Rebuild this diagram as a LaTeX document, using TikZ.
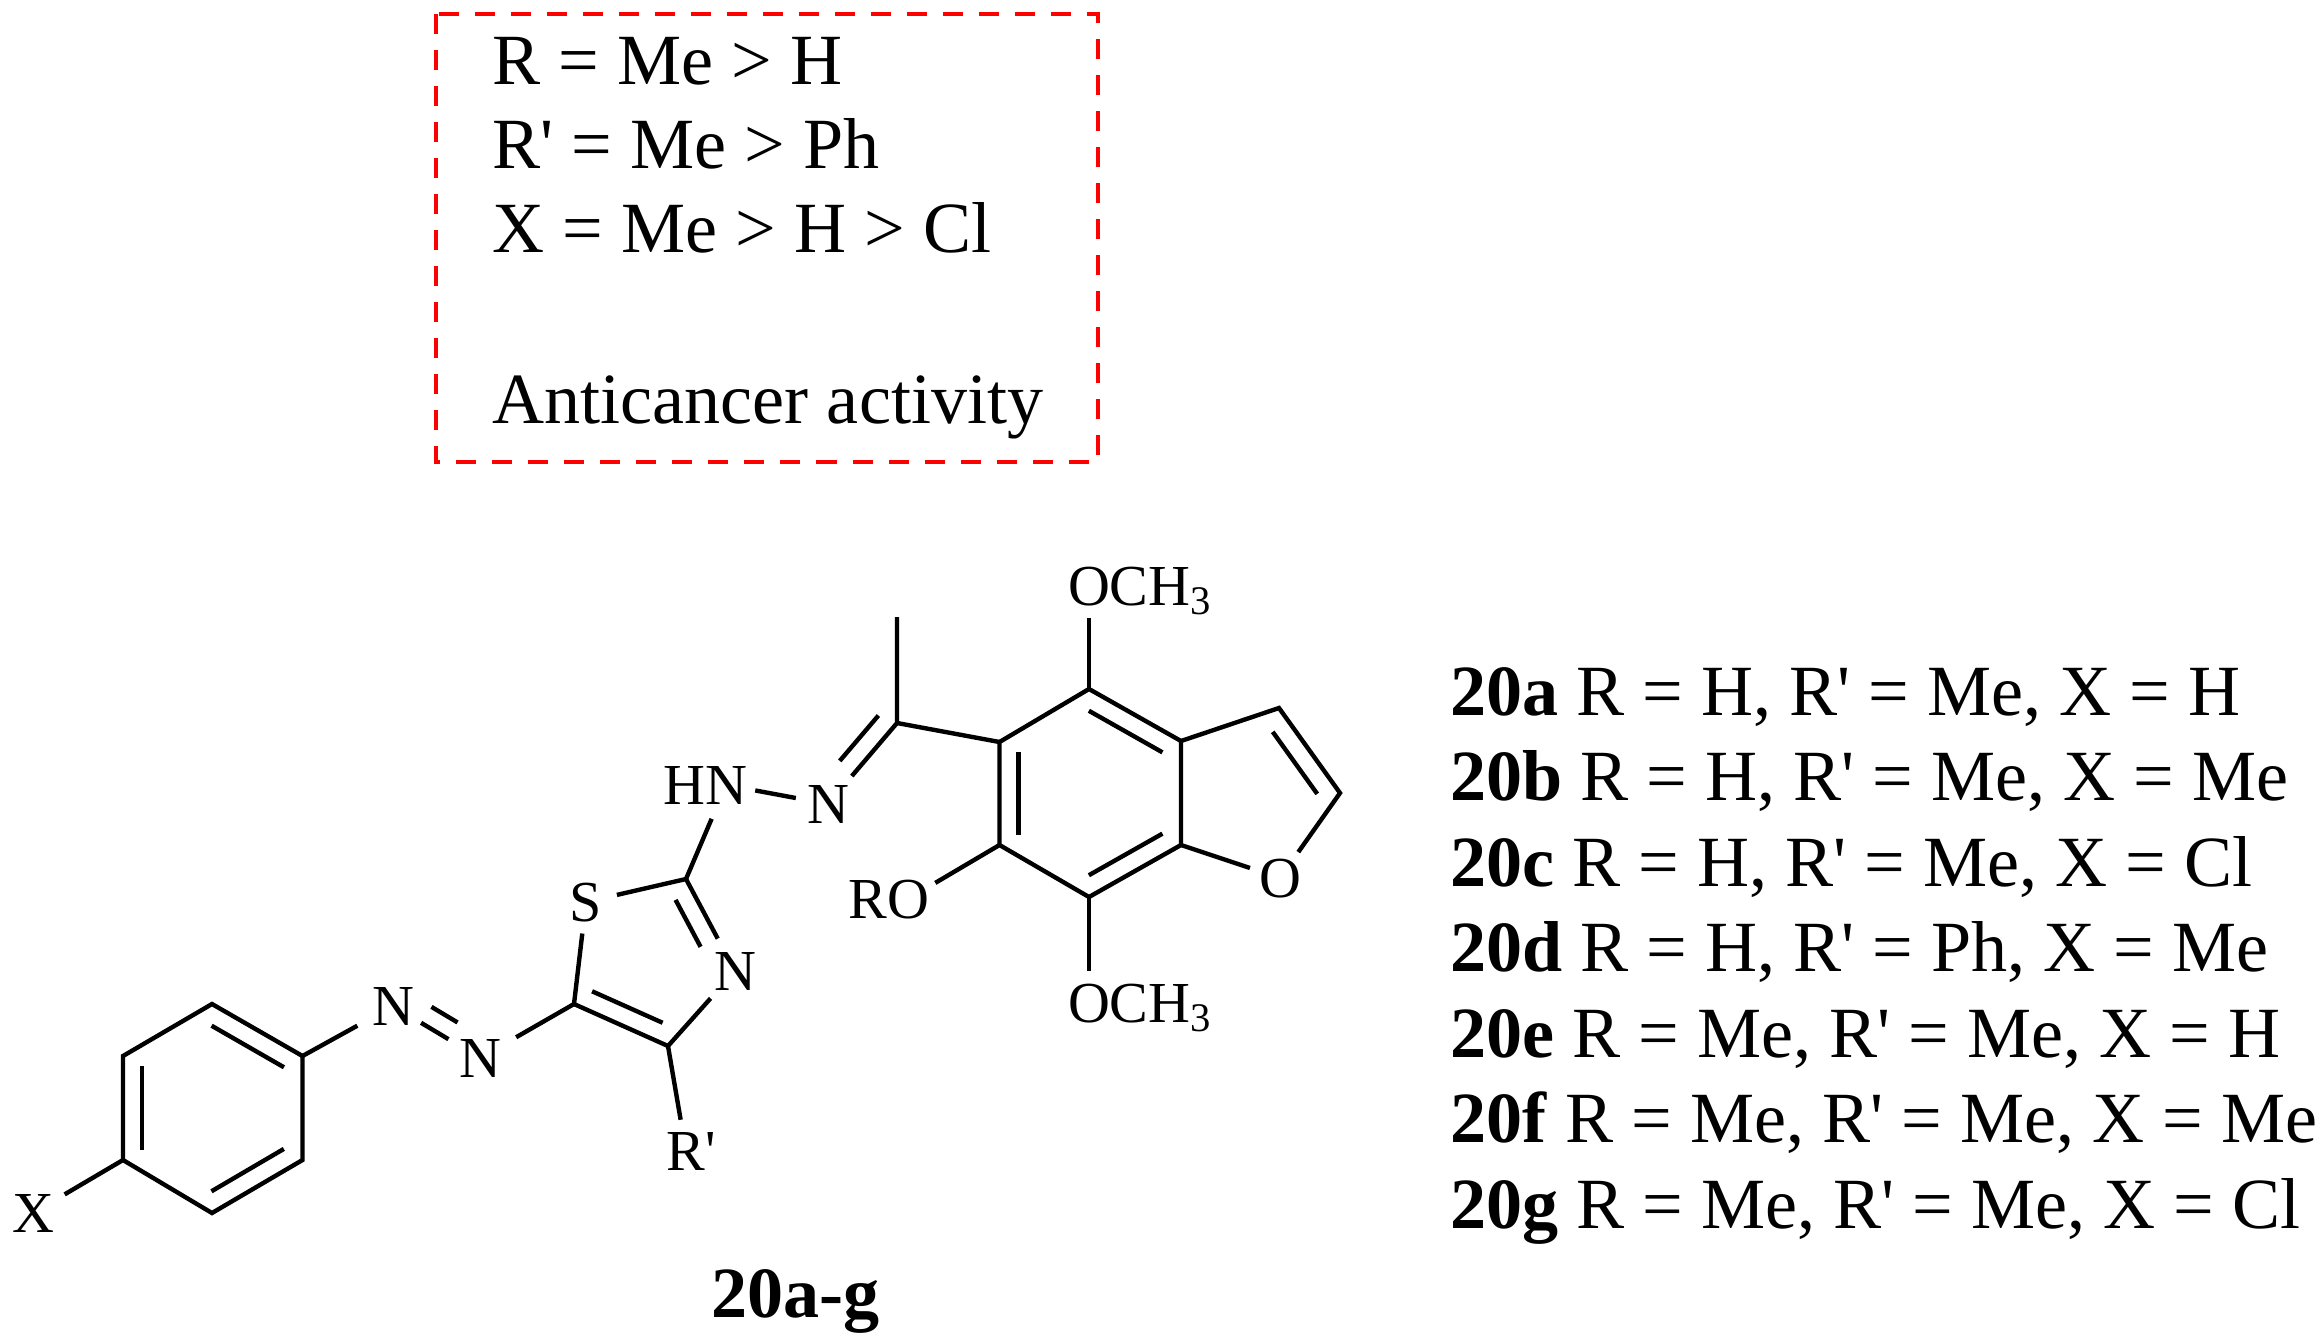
\documentclass[tikz,border=0pt]{standalone}
\usepackage{fontspec}
\usetikzlibrary{calc}
\newfontfamily\serifface{Liberation Serif}
\definecolor{sarred}{RGB}{255,0,0}
\newcommand{\innerbond}[5]{\draw[bond] ($(#1)!#3!(#2)!0.19cm!#5:(#2)$) -- ($(#1)!#4!(#2)!0.19cm!#5:(#2)$);}
\begin{document}
\begin{tikzpicture}[x=0.01cm,y=-0.01cm,
		bond/.style={black,line width=1.25pt},
		atom/.style={circle,inner sep=0pt,minimum size=.72cm,text height=.38cm,text depth=0pt,font=\serifface\fontsize{16.5}{20}\selectfont},
		smallatom/.style={atom,minimum size=.62cm},
		textline/.style={anchor=base west,inner sep=0pt,font=\serifface\fontsize{20.5}{24}\selectfont},
		sarbox/.style={sarred,line width=1.25pt,dash pattern=on 0.2cm off 0.16cm}]
		\useasboundingbox (0,0) rectangle (2324,1342);
		\path (212,1004) coordinate (b1) (302.5,1056) coordinate (b2) (302.5,1160) coordinate (b3)
		(212,1213) coordinate (b4) (123,1160) coordinate (b5) (123,1056) coordinate (b6);
		\path (574,1004) coordinate (c5) (668,1046) coordinate (c4) (686,879) coordinate (c2);
		\path (897,723) coordinate (cim) (897,617) coordinate (cme);
		\path (1089,689) coordinate (r1) (1181,741) coordinate (r2) (1181,845) coordinate (r3)
		(1089,897) coordinate (r4) (999.5,845) coordinate (r5) (999.5,742) coordinate (r6);
		\path (1279,708) coordinate (f1) (1340,793) coordinate (f2);
		\node[atom] (xsub) at (33,1213) {X};
		\node[atom] (nazoa) at (393,1006) {N};
		\node[atom] (nazob) at (480,1058) {N};
		\node[smallatom] (sthia) at (586,902) {S};
		\node[atom] (nthia) at (735,971) {N};
		\node[smallatom] (rprime) at (686,1151) {R\rlap{'}};
		\node[atom] (hnlink) at (726,785) {\llap{H}N};
		\node[atom] (nimine) at (828,804) {N};
		\node[smallatom] (ofour) at (1089,586) {O\rlap{CH\textsubscript{3}}};
		\node[smallatom] (oseven) at (1089,1003) {O\rlap{CH\textsubscript{3}}};
		\node[smallatom] (oring) at (1280,878) {O};
		\node[smallatom] (roxy) at (908,899) {\llap{R}O};
		\draw[bond] (b1) -- (b2) -- (b3) -- (b4) -- (b5) -- (b6) -- cycle;
		\innerbond{b1}{b2}{.1}{.9}{-90}
		\innerbond{b3}{b4}{.1}{.9}{-90}
		\innerbond{b5}{b6}{.1}{.9}{-90}
		\draw[bond] (b5) -- (xsub);
		\draw[bond,shorten >=.04cm] (b2) -- (nazoa);
		\draw[bond,shorten <=-.04cm] (nazoa) -- (nazob);
		\innerbond{nazoa}{nazob}{.33}{.63}{90}
		\draw[bond,shorten <=.05cm] (nazob) -- (c5);
		\draw[bond] (sthia) -- (c5) -- (c4) -- (nthia);
		\innerbond{c5}{c4}{.11}{.86}{90}
		\draw[bond] (sthia) -- (c2) -- (nthia);
		\innerbond{c2}{nthia}{.13}{.64}{-90}
		\draw[bond] (c4) -- (rprime);
		\draw[bond] (c2) -- (hnlink);
		\draw[bond,shorten <=-.07cm,shorten >=-.04cm] (hnlink) -- (nimine);
		\draw[bond] (nimine) -- (cim) -- (cme);
		\innerbond{cim}{nimine}{.06}{.62}{-90}
		\draw[bond] (cim) -- (r6);
		\draw[bond] (r1) -- (r2) -- (r3) -- (r4) -- (r5) -- (r6) -- cycle;
		\innerbond{r1}{r2}{.1}{.9}{-90}
		\innerbond{r3}{r4}{.1}{.9}{-90}
		\innerbond{r5}{r6}{.1}{.9}{-90}
		\draw[bond] (r1) -- (ofour);
		\draw[bond] (r4) -- (oseven);
		\draw[bond] (r5) -- (roxy);
		\draw[bond] (r2) -- (f1) -- (f2) -- (oring) -- (r3);
		\innerbond{f1}{f2}{.15}{.88}{-90}
		\draw[sarbox] (436,14) rectangle (1098,462);
		\node[textline] (sara) at (492,84) {R = Me > H};
		\node[textline] (sarb) at (492,168) {R' = Me > Ph};
		\node[textline] (sarc) at (492,252) {X = Me > H > Cl};
		\node[textline] (sard) at (492,423) {Anticancer activity};
		\node[textline] (title) at (711,1317) {\textbf{20a-g}};
		\node[textline] (lista) at (1450,715) {\textbf{20a} R = H, R' = Me, X = H};
		\node[textline] (listb) at (1450,800) {\textbf{20b} R = H, R' = Me, X = Me};
		\node[textline] (listc) at (1450,886) {\textbf{20c} R = H, R' = Me, X = Cl};
		\node[textline] (listd) at (1450,971) {\textbf{20d} R = H, R' = Ph, X = Me};
		\node[textline] (liste) at (1450,1057) {\textbf{20e} R = Me, R' = Me, X = H};
		\node[textline] (listf) at (1450,1142) {\textbf{20f} R = Me, R' = Me, X = Me};
		\node[textline] (listg) at (1450,1228) {\textbf{20g} R = Me, R' = Me, X = Cl};
\end{tikzpicture}
\end{document}
